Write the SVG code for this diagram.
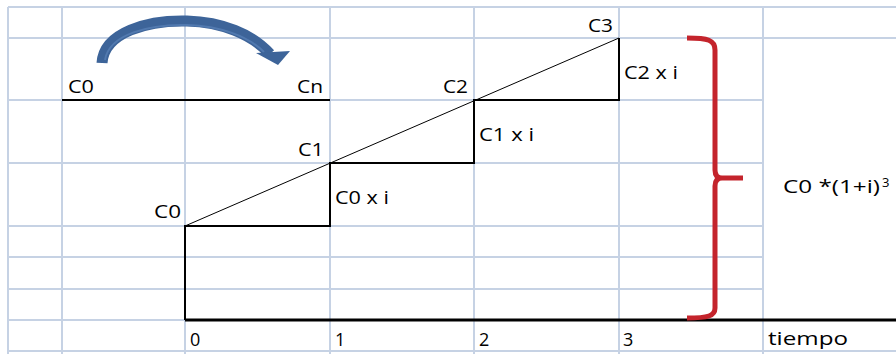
<svg xmlns="http://www.w3.org/2000/svg" width="896" height="354" viewBox="0 0 896 354">
<style>
.g{stroke:#c6d2e4;stroke-width:2;fill:none}
.b{stroke:#000;stroke-width:2;fill:none}
.t{font-family:"Open Sans","Noto Sans",sans-serif;font-size:18px;fill:#000}
</style>
<rect width="896" height="354" fill="#fff"/>
<g id="grid" class="g">
<path d="M8,7H896M8,38H896M8,100H763M8,163H763M8,226H763M8,257H763M8,289H763M8,320H763M8,351H896"/>
<path d="M8,7V354M62,7V354M185,7V354M330,7V354M474,7V354M619,7V354M763,7V354"/>
</g>
<g id="connectors">
<path class="b" d="M62,100H330"/>
<path class="b" d="M185,320V226H330V163H474V100H619V38"/>
<path d="M185,226L619,38" stroke="#000" stroke-width="1" fill="none"/>
<path d="M185,320H896" stroke="#000" stroke-width="3" fill="none"/>
<path d="M687,38C708,38 715,40 715,50V170Q715,178 722,178H743M722,178Q715,178 715,186V308C715,316 708,318 687,318" stroke="#c4242c" stroke-width="5" fill="none" stroke-linejoin="round"/>
<g id="curved-arrow">
<path d="M102,63C104,32 148,20 187,21C222,22 252,34 270,54" stroke="#3d6499" stroke-width="11" fill="none"/>
<path d="M105,60C109,34 150,24 187,25C220,26 248,36 264,52" stroke="#5a82b8" stroke-width="2" fill="none" opacity="0.7"/>
<polygon points="256,53 290,51 278,65" fill="#3d6499"/>
</g>
</g>
<g id="label-c0-top"><text class="t" x="68" y="93" textLength="26" lengthAdjust="spacingAndGlyphs">C0</text></g>
<g id="label-cn"><text class="t" x="297" y="93" textLength="26" lengthAdjust="spacingAndGlyphs">Cn</text></g>
<g id="label-c0"><text class="t" x="154" y="218" textLength="27" lengthAdjust="spacingAndGlyphs">C0</text></g>
<g id="label-c1"><text class="t" x="298" y="156" textLength="26" lengthAdjust="spacingAndGlyphs">C1</text></g>
<g id="label-c2"><text class="t" x="443" y="93" textLength="25" lengthAdjust="spacingAndGlyphs">C2</text></g>
<g id="label-c3"><text class="t" x="588" y="32" textLength="25" lengthAdjust="spacingAndGlyphs">C3</text></g>
<g id="label-c0xi"><text class="t" x="335" y="204" textLength="54" lengthAdjust="spacingAndGlyphs">C0 x i</text></g>
<g id="label-c1xi"><text class="t" x="479" y="141" textLength="55" lengthAdjust="spacingAndGlyphs">C1 x i</text></g>
<g id="label-c2xi"><text class="t" x="624" y="79" textLength="54" lengthAdjust="spacingAndGlyphs">C2 x i</text></g>
<g id="axis-0"><text class="t" x="190" y="346">0</text></g>
<g id="axis-1"><text class="t" x="335" y="346">1</text></g>
<g id="axis-2"><text class="t" x="479" y="346">2</text></g>
<g id="axis-3"><text class="t" x="623" y="346">3</text></g>
<g id="axis-tiempo"><text class="t" x="768" y="345" textLength="80" lengthAdjust="spacingAndGlyphs">tiempo</text></g>
<g id="formula">
<text class="t" x="783" y="193" textLength="97" lengthAdjust="spacingAndGlyphs">C0 *(1+i)</text>
<text class="t" x="882" y="187" style="font-size:13px">3</text>
</g>
</svg>
